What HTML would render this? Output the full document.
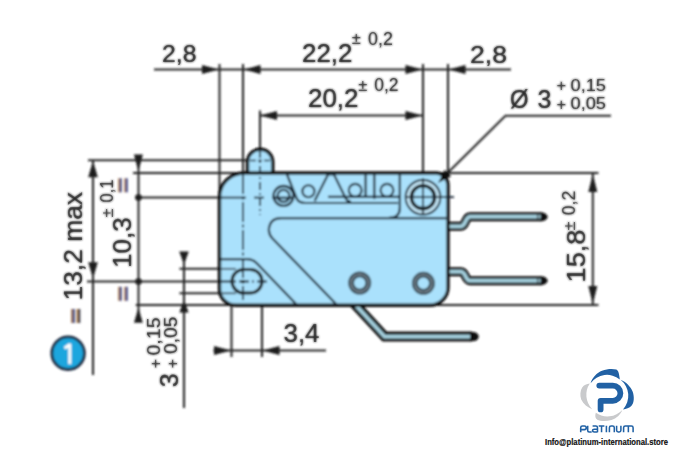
<!DOCTYPE html>
<html><head><meta charset="utf-8"><title>Microswitch dimensions</title>
<style>
html,body{margin:0;padding:0;background:#fff;width:675px;height:450px;overflow:hidden}
svg{display:block}
text{font-family:"Liberation Sans",sans-serif;fill:#222;stroke:#222;stroke-width:0.1}
text.s{stroke-width:0}
</style></head><body>
<svg width="675" height="450" viewBox="0 0 675 450">
<defs><filter id="bl" filterUnits="userSpaceOnUse" x="0" y="0" width="675" height="450"><feGaussianBlur stdDeviation="1"/></filter></defs>
<rect width="675" height="450" fill="#fff"/>
<g filter="url(#bl)">

<!-- ===== thin dimension / extension lines ===== -->
<g stroke="#222" stroke-width="2" fill="none">
  <!-- top dim line -->
  <line x1="154" y1="69.5" x2="511" y2="69.5"/>
  <line x1="260" y1="115.5" x2="423" y2="115.5"/>
  <!-- vertical extension lines -->
  <line x1="219.5" y1="64" x2="219.5" y2="195"/>
  <line x1="243" y1="64" x2="243" y2="174"/>
  <line x1="260" y1="110.5" x2="260" y2="150"/>
  <line x1="423" y1="64" x2="423" y2="184"/>
  <line x1="448" y1="64" x2="448" y2="176"/>
  <!-- horizontal extension lines left -->
  <line x1="88" y1="160.3" x2="248" y2="160.3"/>
  <line x1="133" y1="173" x2="598.5" y2="173"/>
  <line x1="135" y1="197.6" x2="222" y2="197.6"/>
  <line x1="179.5" y1="268.8" x2="240" y2="268.8"/>
  <line x1="87" y1="281.5" x2="222" y2="281.5"/>
  <line x1="179.5" y1="293.3" x2="240" y2="293.3"/>
  <line x1="135.7" y1="305" x2="598.5" y2="305"/>
  <!-- left vertical dim lines -->
  <line x1="93" y1="160" x2="93" y2="375"/>
  <line x1="138.5" y1="155" x2="138.5" y2="322"/>
  <line x1="184" y1="252" x2="184" y2="408"/>
  <!-- bottom 3,4 -->
  <line x1="231.5" y1="290" x2="231.5" y2="357"/>
  <line x1="262" y1="290" x2="262" y2="357"/>
  <line x1="213.5" y1="350.5" x2="326" y2="350.5"/>
  <!-- right 15,8 -->
  <line x1="592.8" y1="173" x2="592.8" y2="305"/>
  <!-- leader -->
  <polyline points="611,115.7 505.5,115.7 447,173.5"/>
</g>

<!-- ===== arrows ===== -->
<g fill="#1c1c1c">
  <polygon points="219,69.5 202,65 202,74"/>
  <polygon points="243.5,69.5 260.5,65 260.5,74"/>
  <polygon points="422.5,69.5 405.5,65 405.5,74"/>
  <polygon points="448.5,69.5 465.5,65 465.5,74"/>
  <polygon points="260,115.5 277,111 277,120"/>
  <polygon points="422.5,115.5 405.5,111 405.5,120"/>
  <!-- left -->
  <polygon points="93,160.8 88.2,177.2 97.8,177.2"/>
  <polygon points="93,278.5 88.2,262.2 97.8,262.2"/>
  <polygon points="138.4,171.3 133.9,154.4 142.9,154.4"/>
  <polygon points="138.4,307.8 134,322.8 142.8,322.8"/>
  <polygon points="184,264.5 179.2,251.6 188.8,251.6"/>
  <polygon points="184,299.8 179.4,312.6 188.6,312.6"/>
  <circle cx="138.5" cy="197.6" r="3.3"/>
  <circle cx="138.5" cy="281.5" r="3.3"/>
  <!-- bottom -->
  <polygon points="231,350.5 214,346 214,355"/>
  <polygon points="262.5,350.5 279.5,346 279.5,355"/>
  <!-- right -->
  <polygon points="592.8,174 588.3,192 597.3,192"/>
  <polygon points="592.8,304 588.3,286 597.3,286"/>
  <!-- leader arrow -->
  
</g>

<!-- ===== terminals ===== -->
<g fill="none" stroke-linejoin="round">
  <path d="M446,226.2 L461,226.2 C466,226.2 465,216.8 470,216.8 L542,216.8" stroke="#111" stroke-width="9"/>
  <path d="M446,271.8 L461,271.8 C466,271.8 465,280.7 470,280.7 L542,280.7" stroke="#111" stroke-width="9"/>
  <path d="M449,226.2 L461,226.2 C466,226.2 465,216.8 470,216.8 L541,216.8" stroke="#a6d2e0" stroke-width="3.6"/>
  <path d="M449,271.8 L461,271.8 C466,271.8 465,280.7 470,280.7 L541,280.7" stroke="#a6d2e0" stroke-width="3.6"/>
  <path d="M537.8,214.6 L537.8,219 M537.8,278.5 L537.8,282.9" stroke="#111" stroke-width="1"/>
  <path d="M540.5,212.3 L544.5,212.9 Q551,216.8 544.5,220.7 L540.5,221.3 Z" fill="#111"/>
  <path d="M540.5,276.2 L544.5,276.8 Q551,280.7 544.5,284.6 L540.5,285.2 Z" fill="#111"/>
</g>

<!-- ===== lever ===== -->
<g fill="none" stroke-linejoin="miter">
  <path d="M353.7,303 L384.7,336.6 L471,336.6" stroke="#111" stroke-width="10"/>
  <path d="M470,331.6 L476,332.5 Q481.5,336.6 476,340.7 L470,341.6 Z" fill="#111"/>
  <path d="M353.7,303 L384.7,336.6 L470,336.6" stroke="#a6d2e0" stroke-width="3.6"/>
</g>

<!-- ===== body ===== -->
<g stroke="#111" stroke-width="3.4" fill="#aae1fc">
  <path d="M247.5,174 L247.5,161.9 A12.6,12.6 0 0 1 272.7,161.9 L272.7,174 Z"/>
  <path d="M243.5,173 L436,173 A12,12 0 0 1 448,185 L448,287.2 A18,18 0 0 1 430,305.2 L235.5,305.2 A16,16 0 0 1 219.5,289.2 L219.5,197 A24,24 0 0 1 243.5,173 Z"/>
</g>

<!-- ===== body internals ===== -->
<polygon points="438,183 451.2,176.2 444.8,169.8" fill="#111"/>
<g stroke="#152430" stroke-width="2.2" fill="none">
  <!-- inner structure -->
  <path d="M221,259.2 L247,259.2 Q253,259.2 257,263.5 L296.5,304.5"/>
  <path d="M446,218.2 L281,218.2 C268,218.2 266.3,231.8 272.3,238.3 L336.5,304.5"/>
  <!-- mechanism -->
  <path d="M287,174.5 L296.5,198 Q298.5,203 305,203 L398,203"/>
  <path d="M314.6,201 L328,174.5 L334,174.5 L345.5,198 Q347,201.5 351,201.5"/>
  <line x1="328" y1="196.8" x2="400" y2="196.8"/>
  <line x1="365.6" y1="175" x2="365.6" y2="198"/>
  <line x1="374.3" y1="175" x2="374.3" y2="199"/>
  <path d="M399.8,175 L399.8,208 Q399.8,217.8 389,217.8"/>
  <line x1="272" y1="197.8" x2="293" y2="197.8"/>
  <circle cx="308.4" cy="191.2" r="6" stroke-width="2.1"/>
  <circle cx="355.2" cy="190.3" r="6.4" stroke-width="2.1"/>
  <circle cx="387" cy="190.3" r="6.4" stroke-width="2.1"/>
  <circle cx="283.5" cy="195.9" r="9.9" stroke-width="2.3"/>
  <circle cx="283.5" cy="195.9" r="6" stroke-width="2.2"/>
  <!-- right circle -->
  <circle cx="423" cy="197.2" r="14.8" stroke="#c6e9f9" stroke-width="2.8"/>
  <circle cx="423" cy="197.2" r="17.3" stroke-width="2"/>
  <circle cx="423" cy="197.2" r="11.6" stroke="#111" stroke-width="3.4"/>
  <!-- lower rings -->
  <circle cx="359.7" cy="283" r="8.6" stroke="#34444f" stroke-width="5.8"/>
  <circle cx="423.4" cy="283.3" r="8.6" stroke="#34444f" stroke-width="5.8"/>
  <circle cx="359.7" cy="283" r="8.7" stroke="#8a9aa4" stroke-width="1.2"/>
  <circle cx="423.4" cy="283.3" r="8.7" stroke="#8a9aa4" stroke-width="1.2"/>
  <!-- slot -->
  <rect x="232" y="269.5" width="30" height="23.5" rx="11.7" stroke="#111" stroke-width="3"/>
</g>
<!-- center lines inside body -->
<g stroke="#152430" stroke-width="1.8" fill="none">
  <line x1="243" y1="174" x2="243" y2="300" stroke-dasharray="20,2.5,3,2.5"/>
  <line x1="260" y1="150" x2="260" y2="215" stroke-dasharray="8,3,2,3"/>
  <line x1="221" y1="197.6" x2="246" y2="197.6"/>
  <line x1="254" y1="197.6" x2="264" y2="197.6"/>
  <path d="M250,160.4 L256,160.4 M258,160.4 L262,160.4 M264,160.4 L270,160.4" stroke-width="1.5"/>
  <line x1="423" y1="178" x2="423" y2="215"/>
  <line x1="405" y1="197.2" x2="454" y2="197.2"/>
  <line x1="221" y1="281.5" x2="268" y2="281.5" stroke-dasharray="10,3,2,3"/>
  <line x1="221" y1="268.8" x2="236" y2="268.8" stroke="#3a4a56" stroke-width="1.7"/>
  <line x1="221" y1="293.3" x2="236" y2="293.3" stroke="#3a4a56" stroke-width="1.7"/>
</g>
<circle cx="243" cy="281.5" r="1.8" fill="#111"/>

<!-- ===== texts (blurred layer) ===== -->
<text x="162" y="61.8" font-size="24" textLength="34.5" lengthAdjust="spacingAndGlyphs">2,8</text>
<text x="302" y="62.3" font-size="25" textLength="50.5" lengthAdjust="spacingAndGlyphs">22,2</text>
<text class="s" x="351.8" y="44" font-size="16.5">±</text>
<text class="s" x="368" y="44.6" font-size="17.5" textLength="24.8" lengthAdjust="spacingAndGlyphs">0,2</text>
<text x="308" y="107.3" font-size="25" textLength="50.5" lengthAdjust="spacingAndGlyphs">20,2</text>
<text class="s" x="358.2" y="90.5" font-size="16.5">±</text>
<text class="s" x="374.3" y="91" font-size="17.5" textLength="24.3" lengthAdjust="spacingAndGlyphs">0,2</text>
<text x="470" y="62.8" font-size="24.5" textLength="37" lengthAdjust="spacingAndGlyphs">2,8</text>
<text x="510" y="108" font-size="25" textLength="18.5" lengthAdjust="spacingAndGlyphs">Ø</text>
<text x="537.5" y="107.9" font-size="25">3</text>
<text class="s" x="556.4" y="91.3" font-size="16.5">+</text>
<text class="s" x="556.4" y="110.1" font-size="16.5">+</text>
<text class="s" x="570.5" y="90.7" font-size="17" textLength="35.5" lengthAdjust="spacingAndGlyphs">0,15</text>
<text class="s" x="570.5" y="108.7" font-size="17" textLength="35.5" lengthAdjust="spacingAndGlyphs">0,05</text>
<text x="283.5" y="341.6" font-size="25" textLength="36" lengthAdjust="spacingAndGlyphs">3,4</text>

<!-- rotated -->
<text transform="translate(82.2,300.5) rotate(-90)" font-size="25.5" textLength="108.5" lengthAdjust="spacingAndGlyphs">13,2 max</text>
<text transform="translate(131.2,268) rotate(-90)" font-size="26">10,3</text>
<text class="s" transform="translate(113,217.5) rotate(-90)" font-size="16.5">±</text>
<text class="s" transform="translate(113.2,202.5) rotate(-90)" font-size="17.5" textLength="23" lengthAdjust="spacingAndGlyphs">0,1</text>
<text transform="translate(585.4,282.5) rotate(-90)" font-size="25" textLength="53" lengthAdjust="spacingAndGlyphs">15,8</text>
<text class="s" transform="translate(574.6,230.5) rotate(-90)" font-size="16.5">±</text>
<text class="s" transform="translate(574.6,215.2) rotate(-90)" font-size="17.5" textLength="24.5" lengthAdjust="spacingAndGlyphs">0,2</text>
<text transform="translate(177.6,387.3) rotate(-90)" font-size="25">3</text>
<text class="s" transform="translate(176.6,354) rotate(-90)" font-size="18" textLength="37.4" lengthAdjust="spacingAndGlyphs">0,05</text>
<text class="s" transform="translate(177.5,368.3) rotate(-90)" font-size="16">+</text>
<text class="s" transform="translate(159.6,355.5) rotate(-90)" font-size="18" textLength="38" lengthAdjust="spacingAndGlyphs">0,15</text>
<text class="s" transform="translate(160.5,368.3) rotate(-90)" font-size="16">+</text>
<!-- = signs -->
<g>
  <rect x="118" y="178.3" width="1.5" height="14" fill="#b88a58"/>
  <rect x="119.5" y="178.3" width="2.1" height="14" fill="#2c3070"/>
  <rect x="124.1" y="178.3" width="1.5" height="14" fill="#b07e50"/>
  <rect x="125.6" y="178.3" width="2.1" height="14" fill="#2e3c80"/>
  <rect x="118" y="286.8" width="1.5" height="14" fill="#b88a58"/>
  <rect x="119.5" y="286.8" width="2.1" height="14" fill="#2c3070"/>
  <rect x="124.1" y="286.8" width="1.5" height="14" fill="#b07e50"/>
  <rect x="125.6" y="286.8" width="2.1" height="14" fill="#2e3c80"/>
  <rect x="71.3" y="309" width="1.9" height="14" fill="#8a5a30"/>
  <rect x="73.2" y="309" width="1.8" height="14" fill="#3a5a90"/>
  <rect x="76.4" y="309" width="1.6" height="14" fill="#b08450"/>
  <rect x="78" y="309" width="2.3" height="14" fill="#40404e"/>
</g>

<!-- ===== circled 1 ===== -->
<circle cx="68.1" cy="353.2" r="16.3" fill="#1aa6de" stroke="#1b2a40" stroke-width="2.8"/>
<path d="M69.8,343.8 L69.8,364 M70.2,344.2 L64.6,348.2" stroke="#fff" stroke-width="3.1" stroke-linecap="butt" fill="none"/>

</g>
<g opacity="0.55">
<!-- ===== texts ===== -->
<text x="162" y="61.8" font-size="24" textLength="34.5" lengthAdjust="spacingAndGlyphs">2,8</text>
<text x="302" y="62.3" font-size="25" textLength="50.5" lengthAdjust="spacingAndGlyphs">22,2</text>
<text class="s" x="351.8" y="44" font-size="16.5">±</text>
<text class="s" x="368" y="44.6" font-size="17.5" textLength="24.8" lengthAdjust="spacingAndGlyphs">0,2</text>
<text x="308" y="107.3" font-size="25" textLength="50.5" lengthAdjust="spacingAndGlyphs">20,2</text>
<text class="s" x="358.2" y="90.5" font-size="16.5">±</text>
<text class="s" x="374.3" y="91" font-size="17.5" textLength="24.3" lengthAdjust="spacingAndGlyphs">0,2</text>
<text x="470" y="62.8" font-size="24.5" textLength="37" lengthAdjust="spacingAndGlyphs">2,8</text>
<text x="510" y="108" font-size="25" textLength="18.5" lengthAdjust="spacingAndGlyphs">Ø</text>
<text x="537.5" y="107.9" font-size="25">3</text>
<text class="s" x="556.4" y="91.3" font-size="16.5">+</text>
<text class="s" x="556.4" y="110.1" font-size="16.5">+</text>
<text class="s" x="570.5" y="90.7" font-size="17" textLength="35.5" lengthAdjust="spacingAndGlyphs">0,15</text>
<text class="s" x="570.5" y="108.7" font-size="17" textLength="35.5" lengthAdjust="spacingAndGlyphs">0,05</text>
<text x="283.5" y="341.6" font-size="25" textLength="36" lengthAdjust="spacingAndGlyphs">3,4</text>

<!-- rotated -->
<text transform="translate(82.2,300.5) rotate(-90)" font-size="25.5" textLength="108.5" lengthAdjust="spacingAndGlyphs">13,2 max</text>
<text transform="translate(131.2,268) rotate(-90)" font-size="26">10,3</text>
<text class="s" transform="translate(113,217.5) rotate(-90)" font-size="16.5">±</text>
<text class="s" transform="translate(113.2,202.5) rotate(-90)" font-size="17.5" textLength="23" lengthAdjust="spacingAndGlyphs">0,1</text>
<text transform="translate(585.4,282.5) rotate(-90)" font-size="25" textLength="53" lengthAdjust="spacingAndGlyphs">15,8</text>
<text class="s" transform="translate(574.6,230.5) rotate(-90)" font-size="16.5">±</text>
<text class="s" transform="translate(574.6,215.2) rotate(-90)" font-size="17.5" textLength="24.5" lengthAdjust="spacingAndGlyphs">0,2</text>
<text transform="translate(177.6,387.3) rotate(-90)" font-size="25">3</text>
<text class="s" transform="translate(176.6,354) rotate(-90)" font-size="18" textLength="37.4" lengthAdjust="spacingAndGlyphs">0,05</text>
<text class="s" transform="translate(177.5,368.3) rotate(-90)" font-size="16">+</text>
<text class="s" transform="translate(159.6,355.5) rotate(-90)" font-size="18" textLength="38" lengthAdjust="spacingAndGlyphs">0,15</text>
<text class="s" transform="translate(160.5,368.3) rotate(-90)" font-size="16">+</text>
</g>
<!-- ===== logo ===== -->
<g>
  <!-- top blue petal -->
  <path d="M590.6,383.2 C592,378 597,372.5 602,370.8 C607,368.8 612.5,368.3 616.3,369.6 C618.5,370.6 619.2,374 619.8,379.4 A20.3,20.3 0 0 0 590.6,383.2 Z" fill="#2161a4"/>
  <!-- right blue petal -->
  <path d="M620.6,379.8 C626,382 630.5,386.5 632.6,391.5 C634.6,397 634,403 631.5,405.8 C629.5,408 626,409 623,409.4 A20.3,20.3 0 0 0 620.6,379.8 Z" fill="#2161a4"/>
  <!-- bottom gray petal -->
  <path d="M622.3,410 C620.5,414.5 616.5,418.5 611.5,420 C606,421.5 600.5,421.3 597.3,419.8 C595.2,418.5 594.8,415.8 595.8,412.8 A20.3,20.3 0 0 0 622.3,410 Z" fill="#c9cacc"/>
  <!-- left gray petal -->
  <path d="M592.2,409.2 C587.5,407.5 583.5,404 581.2,399.5 C579.8,395.5 580.2,390.5 582.2,387.5 C584,385 586.5,384 589.8,383.6 A20.3,20.3 0 0 0 592.2,409.2 Z" fill="#c9cacc"/>
  <!-- P -->
  <path d="M599.3,385.6 L612.8,385.6 A7.6,7.6 0 0 1 612.8,400.8 L600.6,400.8 L600.6,409.4" stroke="#2161a4" stroke-width="5.8" fill="none" stroke-linecap="round" stroke-linejoin="round"/>
</g>
<path d="M580.7,432.3 L580.7,427.7 Q580.7,426 582.4,426 L584.5,426 Q586.2,426 586.2,427.8 Q586.2,429.6 584.5,429.6 L580.7,429.6
 M587.7,425.8 L587.7,430.6 Q587.7,432 589.1,432 L591.7,432
 M592.6,426 L595.9,426 Q597.5,426 597.5,427.7 L597.5,432.3 M597.5,429.2 L594.3,429.2 Q592.5,429.2 592.5,430.6 Q592.5,432 594.3,432 L597.5,432
 M598.7,426 L604.4,426 M601.55,426 L601.55,432.3
 M606.4,425.8 L606.4,432.3
 M609.4,432.3 L609.4,427.7 Q609.4,426 611.1,426 L612.6,426 Q614.3,426 614.3,427.7 L614.3,432.3
 M616.6,425.8 L616.6,430.3 Q616.6,432 618.3,432 L619.2,432 Q620.9,432 620.9,430.3 L620.9,425.8
 M623.6,432.3 L623.6,427.7 Q623.6,426 625.3,426 L631.4,426 Q633.1,426 633.1,427.7 L633.1,432.3 M628.35,426 L628.35,432.3" fill="none" stroke="#2262a5" stroke-width="1.55"/>
<text class="s" x="545" y="444.5" font-size="9.4" font-weight="bold" fill="#111" style="fill:#111;stroke:#111;stroke-width:0.2" textLength="123" lengthAdjust="spacingAndGlyphs">Info@platinum-international.store</text>
</svg>
</body></html>
